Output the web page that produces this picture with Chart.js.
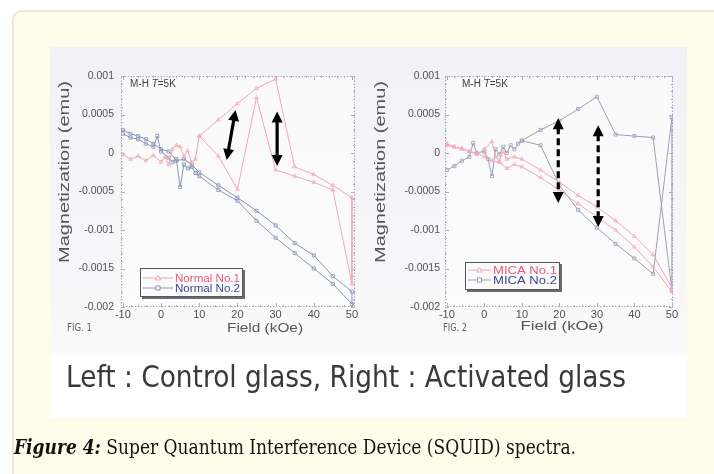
<!DOCTYPE html>
<html><head><meta charset="utf-8">
<script src="https://cdn.jsdelivr.net/npm/chart.js@4"></script>
<style>
html,body{margin:0;padding:0;width:714px;height:474px;overflow:hidden;background:#fff;}
#card{position:absolute;left:12px;top:10px;width:740px;height:500px;box-sizing:border-box;border:2px solid #ede9d9;border-radius:10px;background:#fffcea;}
#fig{position:absolute;left:50px;top:47px;width:637px;height:371px;background:linear-gradient(to bottom,#f2f2f6 0%,#f7f7f9 60%,#fafafa 82%,#ffffff 84%,#ffffff 100%);}
canvas{position:absolute;left:0;top:0;}
.cap{position:absolute;white-space:nowrap;transform-origin:0 0;}
#cap1{left:66px;top:359px;font-family:"Liberation Sans Narrow","DejaVu Sans Condensed",Roboto,sans-serif;font-size:30px;color:#3a3a3a;}
#cap2{left:14px;top:435px;font-family:"DejaVu Serif Condensed","DejaVu Serif","Liberation Serif",serif;font-size:20px;color:#111;}
#cap2 b{font-style:italic;}
</style></head>
<body>
<div id="card"></div>
<div id="fig"></div>
<canvas id="c1" width="714" height="474"></canvas>
<canvas id="c2" width="714" height="474"></canvas>
<div id="cap1" class="cap">Left : Control glass, Right : Activated glass</div>
<div id="cap2" class="cap"><b>Figure 4:</b> Super Quantum Interference Device (SQUID) spectra.</div>
<script>
// ---------- data ----------
const xTicks = [-10, 0, 10, 20, 30, 40, 50];
const yTicks = [0.001, 0.0005, 0, -0.0005, -0.001, -0.0015, -0.002];
const yTickLabels = ['0.001', '0.0005', '0', '-0.0005', '-0.001', '-0.0015', '-0.002'];

const leftNames = ['Normal No.1', 'Normal No.2'];
const rightNames = ['MICA No.1', 'MICA No.2'];

const normal1X = [-10,-8,-6,-4,-2,0,1,2,3,4,5,6,7,8,9,10,15,20,25,30,35,40,45,50,50,45,40,35,30,25,20,15,10];
const normal1Y = [-0.00002,-0.00008,-0.00004,-0.0001,-0.00003,-0.00012,-0.00005,-0.00015,0.00005,0.0001,0.00008,-0.00005,0.00003,-0.00012,-0.00008,0.00022,0.00043,0.00064,0.00084,0.00096,-0.00018,-0.00028,-0.00042,-0.00058,-0.0017,-0.00048,-0.00038,-0.0003,-0.00022,0.00072,-0.00047,-0.00004,0.00022];

const normal2X = [-10,-8,-6,-4,-2,-1,0,2,3,4,5,6,7,8,9,10,15,20,25,30,35,40,45,50,50,45,40,35,30,25,20,15,10,8,6,4,2,0,-2,-4,-6,-8,-10];
const normal2Y = [0.00025,0.0002,0.00018,0.00012,0.00008,0.00022,0.00002,-0.00006,-0.00012,-0.00008,-0.00044,-0.00015,-0.0002,-0.00018,-0.00026,-0.0003,-0.00048,-0.00062,-0.00088,-0.0011,-0.0013,-0.0015,-0.0017,-0.00196,-0.0018,-0.0016,-0.00133,-0.00117,-0.00094,-0.00075,-0.00058,-0.00042,-0.00025,-0.00015,-0.00008,-0.0001,0.00002,0.00005,0.00012,0.00018,0.00022,0.00025,0.0003];

const mica1X = [-10,-8,-6,-4,-2,0,2,3,4,5,6,8,10,15,20,25,30,35,40,45,50,50,45,40,35,30,25,20,15,10,8,6,4,2,0,-2,-4,-6,-8,-10];
const mica1Y = [0.00012,0.00008,0.00005,0.00002,-0.00002,0.00005,0.00015,-0.00005,-0.0001,0.00002,-0.00008,-0.00005,-0.00008,-0.00022,-0.00038,-0.00055,-0.0007,-0.00088,-0.00108,-0.00132,-0.00175,-0.0018,-0.00148,-0.00122,-0.001,-0.00083,-0.00066,-0.00048,-0.00032,-0.00018,-0.00015,-0.0002,-0.00012,-0.0001,-0.00005,0,0.00002,0.00006,0.00008,0.0001];

const mica2X = [-10,-8,-6,-4,-3,-2,0,1,2,3,4,5,6,7,8,9,10,15,20,25,30,35,40,45,50,50,45,40,35,30,25,20,15,10];
const mica2Y = [-0.00022,-0.00017,-0.0001,-0.00005,0.00013,0,0.00002,-0.00008,-0.0003,0.00005,-0.00002,0.00008,0,0.0001,0.00005,0.00012,0.00016,0.0003,0.00042,0.00057,0.00073,0.00024,0.00022,0.0002,-0.00178,0.00046,-0.00157,-0.00137,-0.00118,-0.00097,-0.00074,-0.00042,0.0001,0.00016];

// annotation arrows (data coordinates)
const leftArrows = [{x1:19.5,y1:0.00056,x2:17.2,y2:-0.00009},{x1:30.4,y1:0.00054,x2:30.4,y2:-0.00017}];
const rightArrows = [{x1:19.7,y1:0.00045,x2:19.7,y2:-0.00065},{x1:30.35,y1:0.00036,x2:30.35,y2:-0.00096}];

// ---------- helpers ----------
const pts = (xs, ys) => xs.map((x, i) => ({x: x, y: ys[i]}));
const PINK = '#f2a6b6', PINKTXT = '#e55b78';
const BLUE = '#8a93b6', BLUETXT = '#3b4795';
const GRAY = '#9aa0b4';

function fitText(ctx, txt, x, y, w, font, align) {
  ctx.save();
  ctx.font = font;
  const m = ctx.measureText(txt).width;
  const s = w / m;
  ctx.translate(x, y);
  ctx.scale(s, 1);
  ctx.textAlign = align || 'left';
  ctx.textBaseline = 'middle';
  ctx.fillText(txt, 0, 0);
  ctx.restore();
}

function arrowHead(ctx, tx, ty, ang, len, hw) {
  ctx.beginPath();
  ctx.moveTo(tx, ty);
  ctx.lineTo(tx - len*Math.cos(ang) + hw*Math.sin(ang), ty - len*Math.sin(ang) - hw*Math.cos(ang));
  ctx.lineTo(tx - len*Math.cos(ang) - hw*Math.sin(ang), ty - len*Math.sin(ang) + hw*Math.cos(ang));
  ctx.closePath();
  ctx.fill();
}

const decor = {
  id: 'decor',
  beforeDatasetsDraw(chart, args, o) {
    const {ctx, chartArea: a, scales} = chart;
    ctx.save();
    ctx.fillStyle = 'rgba(255,255,255,0.55)';
    ctx.fillRect(a.left, a.top, a.right - a.left, a.bottom - a.top);
    ctx.strokeStyle = '#a8a8b0';
    ctx.lineWidth = 1;
    ctx.setLineDash([1.5, 1.5]);
    ctx.strokeRect(a.left + 0.5, a.top + 0.5, a.right - a.left - 1, a.bottom - a.top - 1);
    ctx.setLineDash([]);
    ctx.strokeStyle = '#b0b0b8';
    for (let v = -10; v <= 50; v += 2) {
      const px = Math.round(scales.x.getPixelForValue(v)) + 0.5;
      const L = (v % 10 === 0) ? 4 : 2;
      ctx.beginPath(); ctx.moveTo(px, a.bottom); ctx.lineTo(px, a.bottom - L);
      ctx.moveTo(px, a.top); ctx.lineTo(px, a.top + L); ctx.stroke();
    }
    for (let k = -20; k <= 10; k++) {
      const py = Math.round(scales.y.getPixelForValue(k * 0.0001)) + 0.5;
      const L = (k % 5 === 0) ? 4 : 2;
      ctx.beginPath(); ctx.moveTo(a.left, py); ctx.lineTo(a.left + L, py);
      ctx.moveTo(a.right, py); ctx.lineTo(a.right - L, py); ctx.stroke();
    }
    ctx.restore();
  },
  afterDatasetsDraw(chart, args, o) {
    const {ctx, chartArea: a, scales} = chart;
    ctx.save();
    ctx.fillStyle = '#000';
    ctx.strokeStyle = '#000';
    o.arrows.forEach(ar => {
      const x1 = scales.x.getPixelForValue(ar.x1), y1 = scales.y.getPixelForValue(ar.y1);
      const x2 = scales.x.getPixelForValue(ar.x2), y2 = scales.y.getPixelForValue(ar.y2);
      const ang = Math.atan2(y2 - y1, x2 - x1);
      const hl = 11, hw = 5.5;
      ctx.lineWidth = 3.2;
      ctx.setLineDash(o.dashed ? [7, 4] : []);
      ctx.beginPath();
      ctx.moveTo(x1 + (hl-2)*Math.cos(ang), y1 + (hl-2)*Math.sin(ang));
      ctx.lineTo(x2 - (hl-2)*Math.cos(ang), y2 - (hl-2)*Math.sin(ang));
      ctx.stroke();
      ctx.setLineDash([]);
      arrowHead(ctx, x2, y2, ang, hl, hw);
      arrowHead(ctx, x1, y1, ang + Math.PI, hl, hw);
    });
    ctx.fillStyle = '#3d3d45';
    ctx.textBaseline = 'middle';
    const tx = a.left + o.mhDx, ty = a.top + 8;
    ctx.font = '10px "Liberation Sans", Arial, sans-serif';
    ctx.fillText('M-H ', tx, ty);
    let w = ctx.measureText('M-H ').width;
    ctx.font = 'italic 10px "Liberation Sans", Arial, sans-serif';
    ctx.fillText('T', tx + w, ty);
    w += ctx.measureText('T').width;
    ctx.font = '10px "Liberation Sans", Arial, sans-serif';
    ctx.fillText('=5K', tx + w, ty);
    const L = o.legend;
    const bx = a.left + L.dx, by = a.top + L.dy;
    ctx.fillStyle = '#6a6a70';
    ctx.fillRect(bx + 2, by + 2, L.w, L.h);
    ctx.fillStyle = '#fbfbfc';
    ctx.fillRect(bx, by, L.w, L.h);
    ctx.strokeStyle = '#55555c';
    ctx.lineWidth = 1;
    ctx.strokeRect(bx + 0.5, by + 0.5, L.w - 1, L.h - 1);
    chart.data.datasets.forEach((ds, i) => {
      const ry = by + L.row0 + i * L.rowGap;
      ctx.strokeStyle = ds.borderColor;
      ctx.beginPath(); ctx.moveTo(bx + 3, ry); ctx.lineTo(bx + L.textDx - 2, ry); ctx.stroke();
      const mx = bx + (L.textDx + 1) / 2;
      ctx.fillStyle = '#fff';
      if (ds.pointStyle === 'rect') { ctx.fillRect(mx - 2, ry - 2, 4, 4); ctx.strokeRect(mx - 2, ry - 2, 4, 4); }
      else { ctx.beginPath(); ctx.moveTo(mx, ry - 2.5); ctx.lineTo(mx + 2.5, ry + 2); ctx.lineTo(mx - 2.5, ry + 2); ctx.closePath(); ctx.fill(); ctx.stroke(); }
      ctx.fillStyle = ds.legendColor;
      fitText(ctx, ds.label, bx + L.textDx, ry + 0.5, L.textW, '11px "Liberation Sans", Arial, sans-serif', 'left');
    });
    ctx.fillStyle = '#55555c';
    fitText(ctx, 'Field (kOe)', o.xTitle.cx, o.xTitle.cy, o.xTitle.w, '13px "Liberation Sans", Arial, sans-serif', 'center');
    ctx.save();
    ctx.translate(o.yTitle.cx, o.yTitle.cy);
    ctx.rotate(-Math.PI / 2);
    fitText(ctx, 'Magnetization (emu)', 0, 0, o.yTitle.w, '14px "Liberation Sans", Arial, sans-serif', 'center');
    ctx.restore();
    ctx.fillStyle = '#60606a';
    fitText(ctx, o.fig, o.figPos.x, o.figPos.y, o.figPos.w, '11px "DejaVu Sans", sans-serif', 'left');
    ctx.restore();
  }
};

function makeChart(id, datasets, pad, xmax, o) {
  return new Chart(document.getElementById(id), {
    type: 'scatter',
    data: {datasets: datasets},
    options: {
      responsive: false, animation: false, devicePixelRatio: 1,
      layout: {padding: pad},
      plugins: {legend: {display: false}, tooltip: {enabled: false}, decor: o},
      scales: {
        x: {
          type: 'linear', min: -10.5, max: xmax,
          afterBuildTicks: s => { s.ticks = xTicks.map(v => ({value: v})); },
          afterFit: s => { s.height = 30; },
          grid: {display: false, drawTicks: false}, border: {display: false},
          ticks: {color: '#505058', padding: 1, maxRotation: 0, autoSkip: false,
                  font: {size: 11, family: '"Liberation Sans", Arial, sans-serif'}}
        },
        y: {
          type: 'linear', min: -0.002, max: 0.001,
          afterBuildTicks: s => { s.ticks = yTicks.map(v => ({value: v})); },
          afterFit: s => { s.width = 60; },
          grid: {display: false, drawTicks: false}, border: {display: false},
          ticks: {color: '#505058', padding: o.yPad, autoSkip: false,
                  font: {size: 10.5, family: '"Liberation Sans", Arial, sans-serif'},
                  callback: (v, i) => yTickLabels[i]}
        }
      }
    },
    plugins: [decor]
  });
}

function ds(label, xs, ys, color, legendColor, style) {
  return {label: label, data: pts(xs, ys), showLine: true, borderColor: color, borderWidth: 1,
          pointStyle: style, pointRadius: 2.2, pointBorderWidth: 0.8, pointBackgroundColor: 'rgba(255,255,255,0)',
          pointBorderColor: color, legendColor: legendColor};
}

makeChart('c1', [
  ds(leftNames[0], normal1X, normal1Y, PINK, PINKTXT, 'triangle'),
  ds(leftNames[1], normal2X, normal2Y, BLUE, BLUETXT, 'rect')
], {left: 61, right: 359, top: 76, bottom: 137}, 50.8, {
  arrows: leftArrows, dashed: false, mhDx: 9, yPad: 7,
  legend: {dx: 19, dy: 192, w: 103, h: 29, row0: 10, rowGap: 10, textDx: 35, textW: 65},
  xTitle: {cx: 265, cy: 328, w: 76}, yTitle: {cx: 65, cy: 172, w: 182},
  fig: 'FIG. 1', figPos: {x: 67, y: 328, w: 25}
});

makeChart('c2', [
  ds(rightNames[0], mica1X, mica1Y, PINK, PINKTXT, 'triangle'),
  ds(rightNames[1], mica2X, mica2Y, GRAY, BLUETXT, 'rect')
], {left: 385, right: 41, top: 76, bottom: 137}, 50.3, {
  arrows: rightArrows, dashed: true, mhDx: 17, yPad: 5,
  legend: {dx: 20, dy: 186, w: 95, h: 28, row0: 8, rowGap: 10, textDx: 28, textW: 64},
  xTitle: {cx: 562, cy: 326, w: 83}, yTitle: {cx: 381, cy: 172, w: 182},
  fig: 'FIG. 2', figPos: {x: 443, y: 328, w: 24}
});

function fitDiv(id, target) {
  const el = document.getElementById(id);
  const w = el.getBoundingClientRect().width;
  el.style.transform = 'scaleX(' + (target / w) + ')';
}
fitDiv('cap1', 560);
fitDiv('cap2', 562);
</script>
</body></html>
